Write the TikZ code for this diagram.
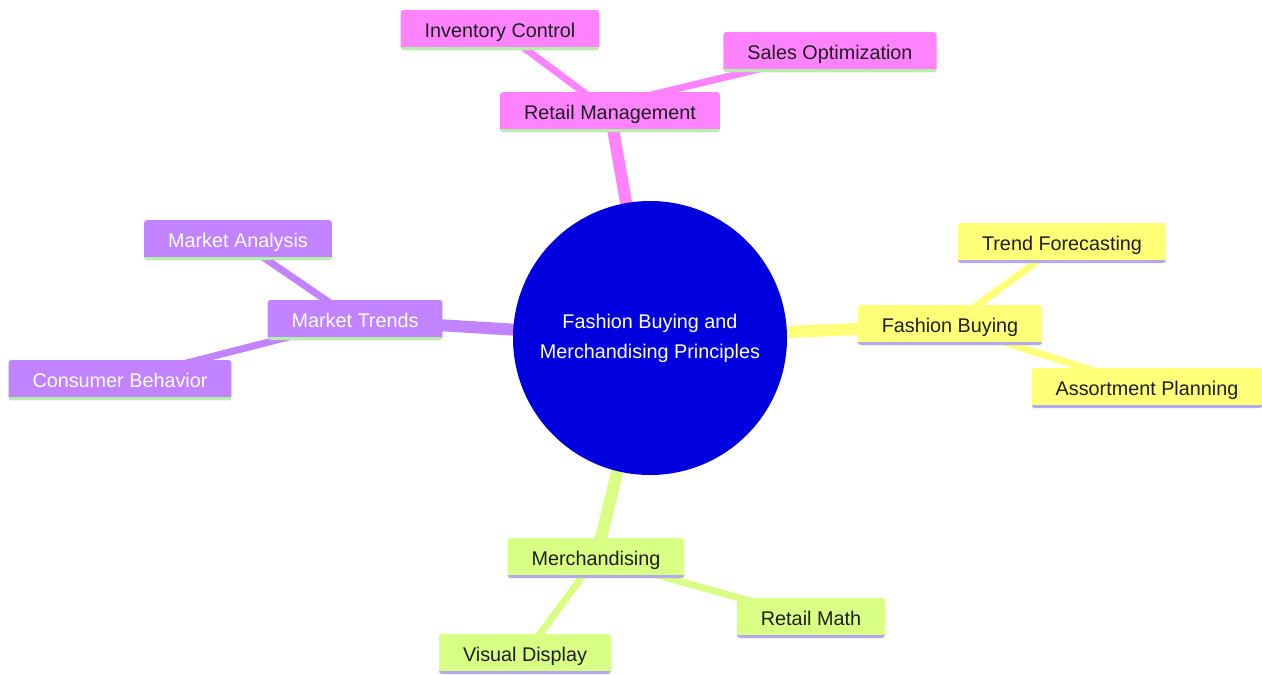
\documentclass[tikz,border=0pt]{standalone}
\usepackage{fontspec}
\setmainfont{Liberation Sans}
\usetikzlibrary{backgrounds,calc}
\definecolor{cpink}{RGB}{255,131,255}
\definecolor{cpurple}{RGB}{193,131,255}
\definecolor{cyellow}{RGB}{255,255,120}
\definecolor{cgreen}{RGB}{216,255,131}
\definecolor{croot}{RGB}{0,0,222}
\definecolor{lgreen}{RGB}{180,240,170}
\definecolor{lav}{RGB}{180,170,235}
\definecolor{dtext}{RGB}{30,30,30}
\tikzset{
  box/.style={rounded corners=3pt, inner xsep=24pt, inner ysep=0pt,
    minimum height=40pt, text height=16pt, text depth=2pt,
    font=\fontsize{19.8}{24}\selectfont},
  pinkbox/.style={box, fill=cpink, text=dtext,
    path picture={\draw[line width=6pt, lgreen] (path picture bounding box.south west) -- (path picture bounding box.south east);}},
  purplebox/.style={box, fill=cpurple, text=white,
    path picture={\draw[line width=6pt, lgreen] (path picture bounding box.south west) -- (path picture bounding box.south east);}},
  yellowbox/.style={box, fill=cyellow, text=dtext,
    path picture={\draw[line width=6pt, lav] (path picture bounding box.south west) -- (path picture bounding box.south east);}},
  greenbox/.style={box, fill=cgreen, text=dtext,
    path picture={\draw[line width=6pt, lav] (path picture bounding box.south west) -- (path picture bounding box.south east);}},
  trunk/.style={line width=12pt},
  twig/.style={line width=7pt},
}
\begin{document}
\begin{tikzpicture}[x=1pt,y=-1pt]
\useasboundingbox (0,0) rectangle (1262,675);
\node[circle, fill=croot, minimum size=274pt, inner sep=0pt, text=white, align=center,
  font=\fontsize{19.8}{30}\selectfont] (root) at (650,338) {Fashion Buying and\\Merchandising Principles};

\node[pinkbox] (rm) at (610,112) {Retail Management};
\node[pinkbox] (ic) at (500,30) {Inventory Control};
\node[pinkbox] (so) at (830,52) {Sales Optimization};

\node[purplebox] (mt) at (355,320) {Market Trends};
\node[purplebox] (ma) at (238,240) {Market Analysis};
\node[purplebox] (cb) at (120,380) {Consumer Behavior};

\node[yellowbox] (fb) at (950,325) {Fashion Buying};
\node[yellowbox] (tf) at (1062,243) {Trend Forecasting};
\node[yellowbox] (ap) at (1147,388) {Assortment Planning};

\node[greenbox] (me) at (596,558) {Merchandising};
\node[greenbox] (rma) at (811,618) {Retail Math};
\node[greenbox] (vd) at (525,654) {Visual Display};

\begin{scope}[on background layer]
  \draw[trunk, cpink] (root.center) -- (rm.center);
  \draw[trunk, cpurple] (root.center) -- (mt.center);
  \draw[trunk, cyellow] (root.center) -- (fb.center);
  \draw[trunk, cgreen] (root.center) -- (me.center);
  \draw[twig, cpink] (rm.center) -- (ic.center);
  \draw[twig, cpink] ([xshift=-30pt]rm.center) -- (so.center);
  \draw[twig, cpurple] (mt.center) -- (ma.center);
  \draw[twig, cpurple] (mt.center) -- (cb.center);
  \draw[twig, cyellow] (fb.center) -- (tf.center);
  \draw[twig, cyellow] (fb.center) -- (ap.center);
  \draw[twig, cgreen] (me.center) -- (rma.center);
  \draw[twig, cgreen] (me.center) -- (vd.center);
\end{scope}
\end{tikzpicture}
\end{document}
